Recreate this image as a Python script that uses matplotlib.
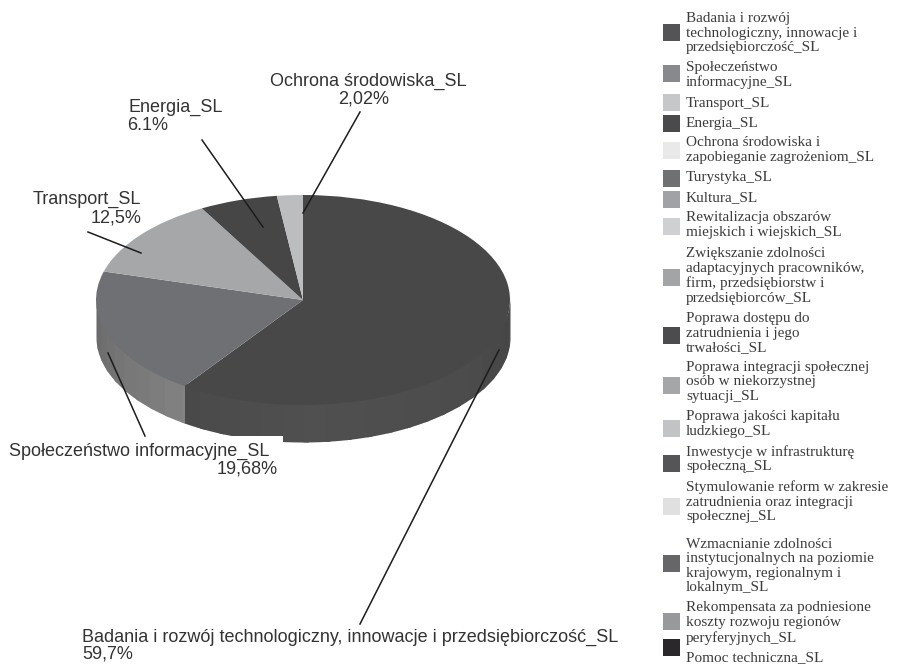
# -*- coding: utf-8 -*-
import numpy as np
import matplotlib
matplotlib.use('Agg')
import matplotlib.pyplot as plt
from matplotlib.patches import Rectangle

# pie data
values = [59.7, 19.68, 12.5, 6.1, 2.02]
pie_colors = ['#484849', '#6f7073', '#a6a7a9', '#464647', '#bcbdbf']

# legend
legend_labels = [
    'Badania i rozwój\ntechnologiczny, innowacje i\nprzedsiębiorczość_SL',
    'Społeczeństwo\ninformacyjne_SL',
    'Transport_SL',
    'Energia_SL',
    'Ochrona środowiska i\nzapobieganie zagrożeniom_SL',
    'Turystyka_SL',
    'Kultura_SL',
    'Rewitalizacja obszarów\nmiejskich i wiejskich_SL',
    'Zwiększanie zdolności\nadaptacyjnych pracowników,\nfirm, przedsiębiorstw i\nprzedsiębiorców_SL',
    'Poprawa dostępu do\nzatrudnienia i jego\ntrwałości_SL',
    'Poprawa integracji społecznej\nosób w niekorzystnej\nsytuacji_SL',
    'Poprawa jakości kapitału\nludzkiego_SL',
    'Inwestycje w infrastrukturę\nspołeczną_SL',
    'Stymulowanie reform w zakresie\nzatrudnienia oraz integracji\nspołecznej_SL',
    'Wzmacnianie zdolności\ninstytucjonalnych na poziomie\nkrajowym, regionalnym i\nlokalnym_SL',
    'Rekompensata za podniesione\nkoszty rozwoju regionów\nperyferyjnych_SL',
    'Pomoc techniczna_SL',
]
legend_colors = ['#545456', '#88898c', '#c6c7c9', '#4a4a4c', '#e9e9ea', '#6f7072',
                 '#a0a3a6', '#cfd0d1', '#a3a4a6', '#4c4c4e', '#a5a6a8', '#c2c3c5',
                 '#555557', '#e0e0e1', '#666668', '#98999b', '#2a282b']

# layout, pixels from the top left
square_y = [32, 73, 102, 123, 150, 178, 199, 226, 277, 335, 385, 428, 463, 506, 563, 621, 647]
text_y = [33, 75, 103, 124, 150, 178, 198, 225, 276, 333, 382, 424, 459, 502, 566, 623, 658]
cx, cy, rx, ry, depth = 303, 300, 207, 105, 37

W, H = 897, 664
fig = plt.figure(figsize=(W / 100, H / 100), dpi=100)

# pie axes, one data unit is rx by ry pixels
ax = fig.add_axes([0, 0, 1, 1])
wedges, _ = ax.pie(values, colors=pie_colors, startangle=90, counterclock=False, radius=1,
                   wedgeprops={'linewidth': 0})
ax.set_aspect('auto')
ax.set_xlim(-cx / rx, (W - cx) / rx)
ax.set_ylim(-(H - cy) / ry, cy / ry)
for w in wedges:
    w.set_zorder(3)

# side wall in strips, each runs a bit under the next one and under the top
split = wedges[0].theta1 % 360
d = depth / ry
edges = np.arange(180, 361, 6.0)
edges = np.sort(np.append(edges, split))
for a0, a1 in zip(edges[:-1], edges[1:]):
    mid = (a0 + a1) / 2
    if mid < split:
        g = np.interp(mid, [180, split], [0x68, 0x82])
        end = min(a1 + 1.5, split)
    else:
        g = np.interp(mid, [split, 270, 320, 345, 360], [0x49, 0x50, 0x4c, 0x47, 0x45])
        end = min(a1 + 1.5, 360)
    t = np.radians(np.linspace(a0, end, 12))
    ax.fill_between(np.cos(t), np.sin(t) + 0.03, np.sin(t) - d, color=[g / 255] * 3, linewidth=0, zorder=2)

# overlay in pixels for texts, leader lines and legend
ov = fig.add_axes([0, 0, 1, 1], facecolor='none')
ov.set_xlim(0, W)
ov.set_ylim(H, 0)
ov.axis('off')

ov.add_patch(Rectangle((200, 436), 83, 12, facecolor='white', edgecolor='none', zorder=4))

leaders = [((360, 112), (303, 213)),
           ((202, 140), (263, 227)),
           ((88, 232), (141, 253)),
           ((145, 436), (108, 353)),
           ((360, 624), (499, 350))]
for p0, p1 in leaders:
    ov.plot([p0[0], p1[0]], [p0[1], p1[1]], color='#1c1c1c', lw=1.1, zorder=5)

label_font = {'family': 'Liberation Sans', 'fontsize': 13, 'color': '#333333', 'zorder': 6}
ov.text(368, 81, 'Ochrona środowiska_SL', ha='center', va='center', **label_font)
ov.text(364, 99, '2,02%', ha='center', va='center', **label_font)
ov.text(128, 107, 'Energia_SL', ha='left', va='center', **label_font)
ov.text(127, 126, '6.1%', ha='left', va='center', **label_font)
ov.text(141, 199, 'Transport_SL', ha='right', va='center', **label_font)
ov.text(141, 218, '12,5%', ha='right', va='center', **label_font)
ov.text(9, 451, 'Społeczeństwo informacyjne_SL', ha='left', va='center', **label_font)
ov.text(278, 469, '19,68%', ha='right', va='center', **label_font)
ov.text(82, 637, 'Badania i rozwój technologiczny, innowacje i przedsiębiorczość_SL',
        ha='left', va='center', **label_font)
ov.text(82, 654, '59,7%', ha='left', va='center', **label_font)

for lab, col, sy, ty in zip(legend_labels, legend_colors, square_y, text_y):
    ov.add_patch(Rectangle((663, sy - 8.5), 17, 17, facecolor=col, edgecolor='none'))
    ov.text(686, ty, lab, ha='left', va='center', family='Liberation Serif', fontsize=11,
            color='#3c3c3c', linespacing=1.16)

fig.savefig('out.png', dpi=100)
